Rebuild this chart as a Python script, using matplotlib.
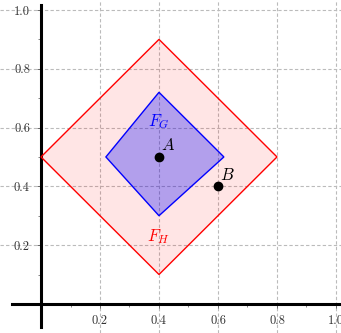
import matplotlib
matplotlib.use("Agg")
import matplotlib.pyplot as plt
from matplotlib.patches import Polygon

plt.rcParams["font.family"] = "serif"
plt.rcParams["font.serif"] = ["cmr10"]
plt.rcParams["mathtext.fontset"] = "cm"
plt.rcParams["axes.formatter.use_mathtext"] = True

# outer region F_H and inner region F_G (vertices)
fh_x = [0.0, 0.4, 0.8, 0.4]
fh_y = [0.5, 0.9, 0.5, 0.1]
fg_x = [0.22, 0.4, 0.62, 0.4]
fg_y = [0.5, 0.72, 0.5, 0.3]

# labelled points
pt_names = ["A", "B"]
pt_x = [0.4, 0.6]
pt_y = [0.5, 0.4]

major_ticks = [0.2, 0.4, 0.6, 0.8, 1.0]
minor_ticks = [0.1, 0.3, 0.5, 0.7, 0.9]

fig = plt.figure(figsize=(3.41, 3.33), dpi=100)
ax = fig.add_axes([0, 0, 1, 1])

ax.add_patch(Polygon(list(zip(fh_x, fh_y)), closed=True, facecolor="red",
                     alpha=0.1, edgecolor="none", zorder=2))
ax.add_patch(Polygon(list(zip(fh_x, fh_y)), closed=True, fill=False,
                     edgecolor="red", lw=1.0, zorder=3))
ax.add_patch(Polygon(list(zip(fg_x, fg_y)), closed=True, facecolor="blue",
                     alpha=0.3, edgecolor="none", zorder=2))
ax.add_patch(Polygon(list(zip(fg_x, fg_y)), closed=True, fill=False,
                     edgecolor="blue", lw=1.0, zorder=3))

ax.plot(pt_x, pt_y, "o", color="black", ms=6, zorder=5)
for name, x, y in zip(pt_names, pt_x, pt_y):
    ax.text(x + 0.008, y + 0.012, f"${name}$", fontsize=12, ha="left",
            va="bottom", zorder=6)

ax.text(0.4, 0.62, "$F_G$", color="blue", fontsize=12, ha="center", va="center")
ax.text(0.4, 0.23, "$F_H$", color="red", fontsize=12, ha="center", va="center")

ax.set_xlim(-0.139, 1.017)
ax.set_ylim(-0.099, 1.034)

ax.spines["left"].set_position(("data", 0))
ax.spines["bottom"].set_position(("data", 0))
ax.spines["right"].set_visible(False)
ax.spines["top"].set_visible(False)
ax.spines["left"].set_linewidth(2.2)
ax.spines["bottom"].set_linewidth(2.2)
ax.spines["left"].set_bounds(-0.08, 1.017)
ax.spines["bottom"].set_bounds(-0.1, 1.017)

ax.set_xticks(major_ticks)
ax.set_yticks(major_ticks)
ax.set_xticks(minor_ticks, minor=True)
ax.set_yticks(minor_ticks, minor=True)
ax.set_xticklabels(["0.2", "0.4", "0.6", "0.8", "1.0"])
ax.set_yticklabels(["0.2", "0.4", "0.6", "0.8", "1.0"])
ax.tick_params(which="major", direction="out", length=3, width=0.6,
               labelsize=9, color="#555555", labelcolor="#333333")
ax.tick_params(which="minor", direction="out", length=2, width=0.5,
               color="#555555")
ax.tick_params(axis="x", pad=5)
ax.tick_params(axis="y", pad=5)

ax.grid(True, which="major", linestyle="--", color="#bbbbbb", lw=0.8,
        dashes=(3, 2))
ax.set_axisbelow(True)

fig.savefig("out.png", dpi=100)
